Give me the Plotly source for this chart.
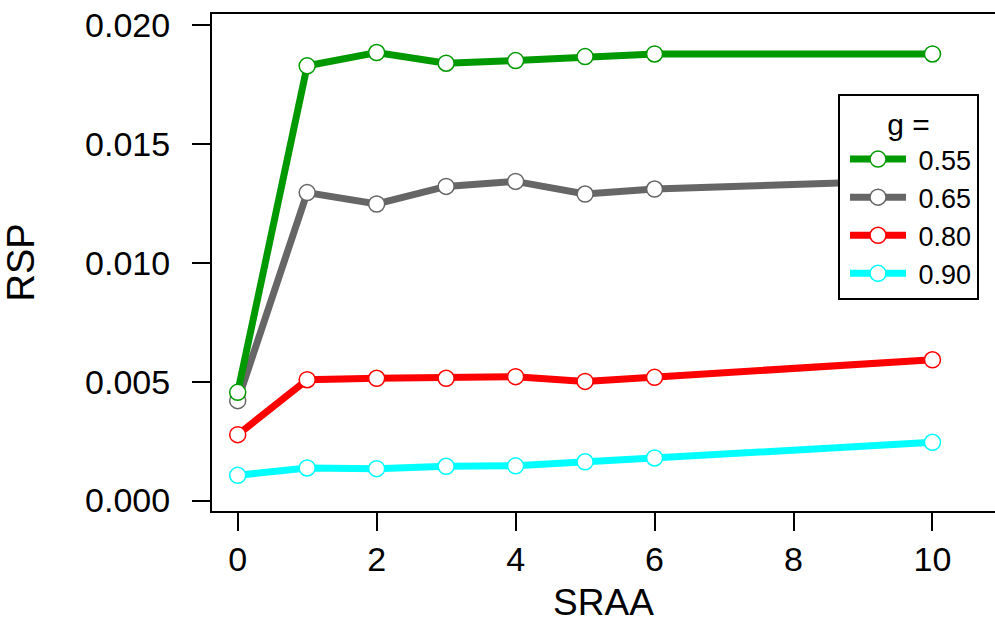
import plotly.graph_objects as go

# SRAA values on the x axis
sraa = [0, 1, 2, 3, 4, 5, 6, 10]

# RSP for each value of g
rsp_055 = [0.00455, 0.01828, 0.01884, 0.01839, 0.01850, 0.01867, 0.01878, 0.01878]
rsp_065 = [0.00420, 0.01295, 0.01247, 0.01321, 0.01342, 0.01289, 0.01310, 0.01348]
rsp_080 = [0.00277, 0.00508, 0.00514, 0.00514, 0.00521, 0.00501, 0.00518, 0.00592]
rsp_090 = [0.00106, 0.00137, 0.00134, 0.00144, 0.00146, 0.00163, 0.00179, 0.00245]

g_labels = ["0.55", "0.65", "0.80", "0.90"]
series = [rsp_055, rsp_065, rsp_080, rsp_090]
colors = ["#009900", "#666666", "#ff0000", "#00ffff"]

y_ticks = [0.000, 0.005, 0.010, 0.015, 0.020]
x_ticks = [0, 2, 4, 6, 8, 10]

FONT = "Liberation Sans, Arial, sans-serif"

fig = go.Figure()

# add the lowest curve first so the upper curves sit on top
for label, values, color in reversed(list(zip(g_labels, series, colors))):
    fig.add_trace(go.Scatter(
        x=sraa,
        y=values,
        name="\u00a0" + label,
        mode="lines+markers",
        line=dict(color=color, width=7),
        marker=dict(size=16, color="white", line=dict(color=color, width=1.5)),
    ))

axis_common = dict(
    showline=True,
    linecolor="black",
    linewidth=2,
    ticks="outside",
    ticklen=18,
    tickwidth=2,
    tickcolor="black",
    showgrid=False,
    zeroline=False,
    tickfont=dict(family=FONT, size=34, color="black"),
)

fig.update_layout(
    width=995,
    height=633,
    margin=dict(l=212, r=0, t=14, b=122),
    paper_bgcolor="white",
    plot_bgcolor="white",
    font=dict(family=FONT, color="black"),
    xaxis=dict(
        **axis_common,
        range=[-0.37, 10.9],
        tickvals=x_ticks,
        ticktext=[str(v) for v in x_ticks],
        mirror=True,
        ticklabelstandoff=-1,
        title=dict(text="SRAA", font=dict(family=FONT, size=37, color="black"), standoff=12),
    ),
    yaxis=dict(
        **axis_common,
        range=[-0.00044, 0.02046],
        tickvals=y_ticks,
        ticktext=[f"{v:.3f}" for v in y_ticks],
        ticklabelstandoff=15,
        title=dict(text="RSP", font=dict(family=FONT, size=38, color="black"), standoff=40),
    ),
    legend=dict(
        x=0.7995,
        y=0.839,
        xanchor="left",
        yanchor="top",
        bgcolor="white",
        bordercolor="black",
        borderwidth=2,
        traceorder="reversed",
        itemsizing="trace",
        itemwidth=56,
        indentation=5,
        font=dict(family=FONT, size=27, color="black"),
        title=dict(text="g =", side="top center", font=dict(family=FONT, size=30, color="black")),
    ),
    showlegend=True,
)

fig.write_html("out.html")
